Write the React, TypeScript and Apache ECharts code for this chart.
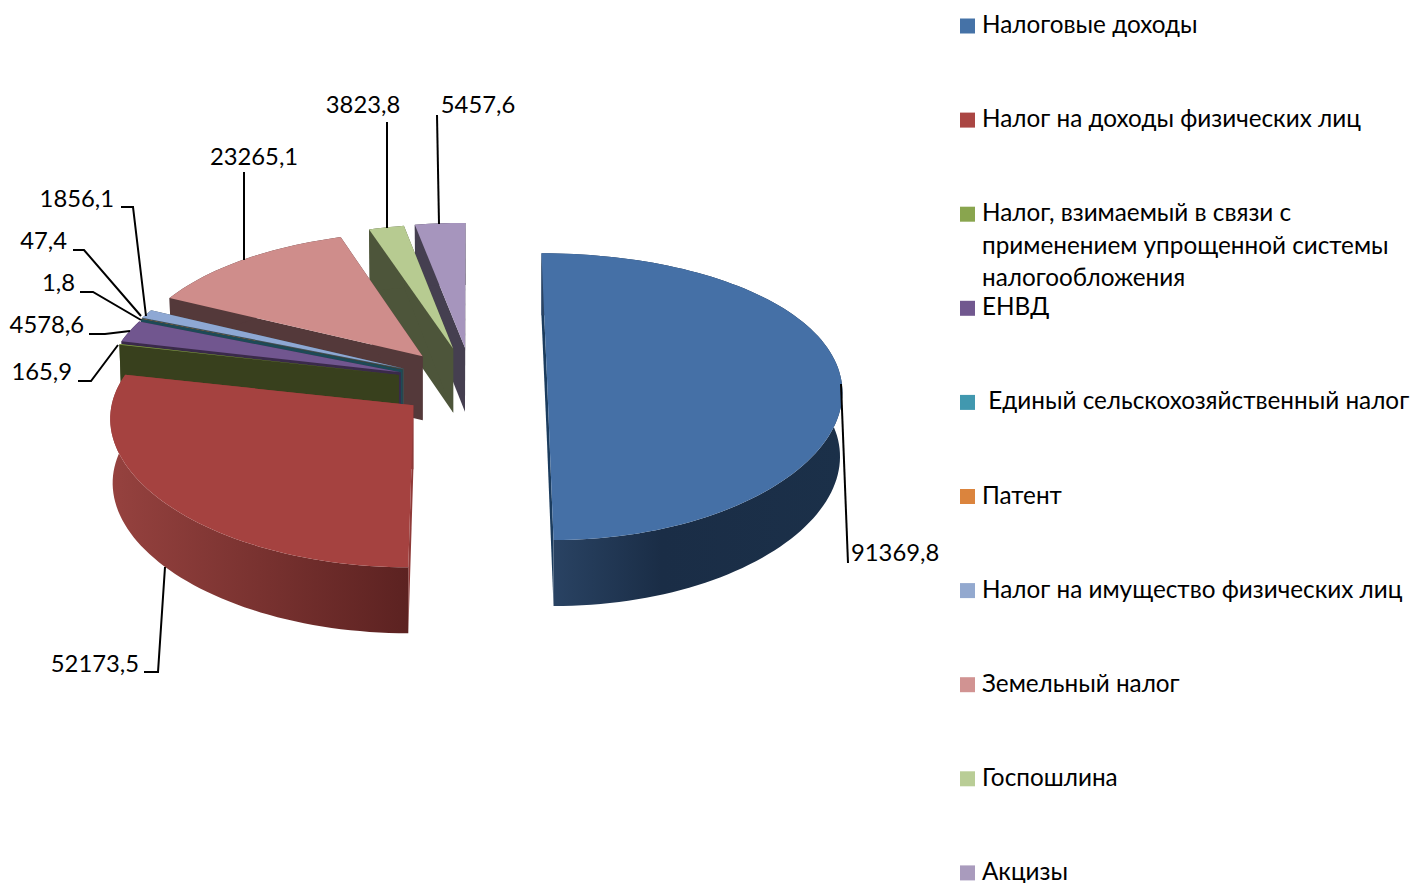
import React, { useEffect, useRef } from "react";
import * as echarts from "echarts";

const categories = [
  "Налоговые доходы",
  "Налог на доходы физических лиц",
  "Налог, взимаемый в связи с\nприменением упрощенной системы\nналогообложения",
  "ЕНВД",
  " Единый сельскохозяйственный налог",
  "Патент",
  "Налог на имущество физических лиц",
  "Земельный налог",
  "Госпошлина",
  "Акцизы",
];
const values = [91369.8, 52173.5, 165.9, 4578.6, 1.8, 47.4, 1856.1, 23265.1, 3823.8, 5457.6];

const legendColors = ["#4572A7", "#AA4643", "#89A54E", "#71588F", "#4198AF", "#DB843D", "#93A9CF", "#D19392", "#B9CD96", "#A99BBD"];
const topColors = ["#4570A6", "#A54240", "#85A04A", "#71568F", "#4198AF", "#DB843D", "#8EA8D4", "#CF8D8B", "#B7CB91", "#A695BD"];
const wallColors = ["#1B3C5E", "#8E3A38", "#38401D", "#3A2A4A", "#1D4A57", "#5E3A1C", "#3F4F55", "#54393A", "#4D553A", "#453F50"];
const paintOrder = [9, 8, 7, 6, 5, 4, 3, 2, 1, 0];

// Projection of the exploded, tilted disc
const CX = 472, CY = 383, EX = 75, EY = 35.5, RX = 293, RY = 141, KX = 0.08, KY = 0.13;
// The lower face is further from the eye, so it is drawn slightly narrower
const LOW_SCALE = 0.992;
// Small per-slice corrections of the projection (width factor, vertical shift)
const widthFactor = [1.003, 1.03, 1, 1, 1, 1, 1, 1, 1, 1];
const shiftY = [-5, 0, 0, 0, 0, 0, 0, 0, 0, 0];
const total = values.reduce((a, b) => a + b, 0);
const starts: number[] = [];
values.reduce((acc, v, i) => { starts[i] = acc; return acc + v; }, 0);
const toAngle = (v: number) => (v / total) * Math.PI * 2;

function project(i: number, theta: number, r: number, mid: number, low: boolean): number[] {
  const c = Math.cos(theta) * r;
  const s = Math.sin(theta) * r;
  const rx = RX * widthFactor[i] * (low ? LOW_SCALE : 1);
  const x = CX + (EX * Math.sin(mid) + rx * s) / (1 + KX * c);
  const y = CY + shiftY[i] - EY * Math.cos(mid) - (RY * c) / (1 + KY * c) + (low ? 64 - 2 * c : 0);
  return [x, y];
}

function renderItem(_params: any, api: any) {
  const i = api.value(0);
  const v = api.value(1);
  const a = toAngle(starts[i]);
  const b = a + toAngle(v);
  const mid = (a + b) / 2;
  const steps = Math.max(2, Math.ceil((b - a) / 0.03));
  const rimTop: number[][] = [];
  const rimLow: number[][] = [];
  for (let k = 0; k <= steps; k++) {
    const t = a + ((b - a) * k) / steps;
    rimTop.push(project(i, t, 1, mid, false));
    rimLow.push(project(i, t, 1, mid, true));
  }
  const tipTop = project(i, 0, 0, mid, false);
  const tipLow = project(i, 0, 0, mid, true);
  const poly = (points: number[][], fill: any) => ({
    type: "polygon",
    shape: { points },
    style: { fill, stroke: "none" },
    silent: true,
  });
  const outerFill: any =
    i === 0
      ? { type: "linear", x: 0, y: 0, x2: 1, y2: 0, colorStops: [
          { offset: 0, color: "#2B4566" }, { offset: 0.4, color: "#1A2D46" }, { offset: 1, color: "#1B3049" } ] }
      : i === 1
      ? { type: "linear", x: 0, y: 0, x2: 1, y2: 0, colorStops: [
          { offset: 0, color: "#96423F" }, { offset: 1, color: "#5C2221" } ] }
      : wallColors[i];
  const wall = wallColors[i];
  return {
    type: "group",
    children: [
      poly([rimTop[0], tipTop, tipLow, rimLow[0]], wall),
      poly([rimTop[steps], tipTop, tipLow, rimLow[steps]], wall),
      poly([...rimTop, ...rimLow.slice().reverse()], outerFill),
      poly([tipTop, ...rimTop], topColors[i]),
    ],
  };
}

const FONT = "Lato, 'Noto Sans', sans-serif";
const fmt = (v: number) => v.toFixed(1).replace(".", ",");

// Leader lines and label anchors, in the order of the values
const leaders: number[][][] = [
  [[841, 384], [848, 563]],
  [[165, 567], [158, 672], [144, 672]],
  [[118, 345], [91, 381], [78, 381]],
  [[130, 331], [105, 334], [89, 334]],
  [[141, 320], [93, 292], [80, 292]],
  [[141, 316], [84, 250], [73, 250]],
  [[146, 316], [133, 207], [121, 207]],
  [[244, 260], [244, 172]],
  [[387, 228], [387, 122]],
  [[439, 224], [437, 115]],
];
const labelAnchors: [number, number, string][] = [
  [851, 552, "left"], [139, 663, "right"], [72, 371, "right"], [84, 324, "right"], [75, 282, "right"],
  [67, 240, "right"], [114, 198, "right"], [254, 156, "center"], [363, 104, "center"], [478, 104, "center"],
];

export default function App() {
  const ref = useRef<HTMLDivElement>(null);
  useEffect(() => {
    const chart = echarts.init(ref.current!, undefined, { renderer: "svg" });
    const graphic: any[] = [];
    values.forEach((v, i) => {
      graphic.push({ type: "polyline", shape: { points: leaders[i] }, style: { stroke: "#000", lineWidth: 2, fill: "none" }, z: 20, silent: true });
      const [x, y, align] = labelAnchors[i];
      graphic.push({ type: "text", x, y, z: 21, silent: true, style: { text: fmt(v), font: `23.8px ${FONT}`, fill: "#000", align, verticalAlign: "middle" } });
    });
    categories.forEach((name, i) => {
      const yc = 26 + i * 94.1;
      graphic.push({ type: "rect", shape: { x: 960, y: yc - 7.5, width: 15, height: 15 }, style: { fill: legendColors[i] }, z: 20, silent: true });
      name.split("\n").forEach((line, k) => {
        graphic.push({ type: "text", x: 982, y: yc - 2.5 + k * 32.5, z: 21, silent: true, style: { text: line, font: `24.3px ${FONT}`, fill: "#000", align: "left", verticalAlign: "middle" } });
      });
    });
    chart.setOption({
      animation: false,
      backgroundColor: "#fff",
      graphic,
      series: [
        {
          type: "custom",
          coordinateSystem: "none",
          renderItem,
          silent: true,
          clip: false,
          data: paintOrder.map((i) => ({ name: categories[i], value: [i, values[i]] })),
        },
      ],
    });
    return () => chart.dispose();
  }, []);
  return <div ref={ref} style={{ position: "fixed", left: 0, top: 0, width: 1416, height: 883 }} />;
}
